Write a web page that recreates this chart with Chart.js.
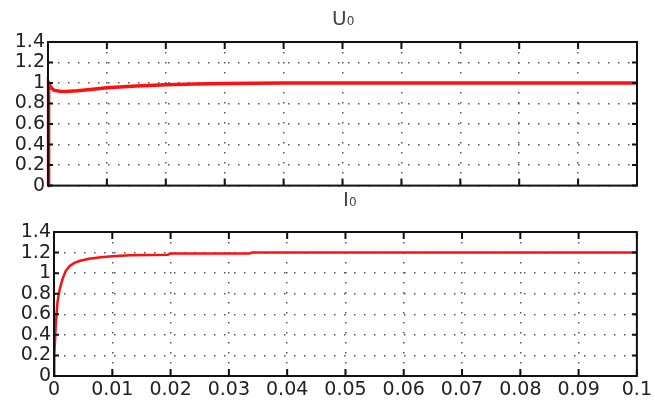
<!DOCTYPE html>
<html>
<head>
<meta charset="utf-8">
<script src="https://cdn.jsdelivr.net/npm/chart.js@4/dist/chart.umd.min.js"></script>
<style>
	html, body { margin: 0; padding: 0; background: #fff; }
	#wrap { position: relative; width: 655px; height: 403px; overflow: hidden; }
	.box { position: absolute; left: 0; width: 655px; }
	.ttl { position: absolute; font-family: 'DejaVu Sans', sans-serif; font-size: 20px; color: #444; line-height: 20px; z-index: 2; }
	.ttl sub { font-size: 12px; vertical-align: 0; }
</style>
</head>
<body>
<div id="wrap">
	<div class="box" style="top:0;height:200px"><canvas id="uChart" width="655" height="200"></canvas></div>
	<div class="box" style="top:200px;height:203px"><canvas id="iChart" width="655" height="203"></canvas></div>
	<div class="ttl" style="left:332px;top:8px">U<sub>0</sub></div>
	<div class="ttl" style="left:343px;top:189px">I<sub>0</sub></div>
</div>
<script>
// time axis
var xTicks = [0, 0.01, 0.02, 0.03, 0.04, 0.05, 0.06, 0.07, 0.08, 0.09, 0.1];
var yTicks = [0, 0.2, 0.4, 0.6, 0.8, 1, 1.2, 1.4];

// U0
var uTime = [0, 0.0001, 0.0005, 0.001, 0.002, 0.003, 0.005, 0.008, 0.01, 0.015, 0.02, 0.025, 0.03, 0.04, 0.06, 0.08, 0.1];
var uValue = [0, 1.0, 0.955, 0.93, 0.92, 0.918, 0.925, 0.942, 0.955, 0.972, 0.984, 0.99, 0.995, 1.0, 1.0, 1.0, 1.0];

// I0
var iTime = [0, 0.00005, 0.0003, 0.0006, 0.001, 0.0015, 0.002, 0.0027, 0.0035, 0.0045, 0.006, 0.008, 0.01, 0.013, 0.0195, 0.02, 0.0335, 0.034, 0.1];
var iValue = [0, 0.2, 0.5, 0.72, 0.85, 0.95, 1.02, 1.07, 1.1, 1.12, 1.14, 1.155, 1.165, 1.175, 1.18, 1.19, 1.19, 1.2, 1.2];

var toPoints = function(t, v) {
	return t.map(function(x, i) { return { x: x, y: v[i] }; });
};

// border + inward tick marks, like the matlab axes
var frameTicks = {
	id: 'frameTicks',
	afterDraw: function(chart) {
		var c = chart.ctx, a = chart.chartArea;
		var xs = chart.scales.x, ys = chart.scales.y;
		c.save();
		c.strokeStyle = '#111';
		c.lineWidth = 2;
		c.strokeRect(a.left, a.top, a.right - a.left, a.bottom - a.top);
		c.beginPath();
		xTicks.forEach(function(v) {
			var px = xs.getPixelForValue(v);
			c.moveTo(px, a.bottom); c.lineTo(px, a.bottom - 7);
			c.moveTo(px, a.top); c.lineTo(px, a.top + 7);
		});
		yTicks.forEach(function(v) {
			var py = ys.getPixelForValue(v);
			c.moveTo(a.left, py); c.lineTo(a.left + 5, py);
			c.moveTo(a.right, py); c.lineTo(a.right - 5, py);
		});
		c.stroke();
		c.restore();
	}
};

var makeChart = function(id, pts, opt) {
	return new Chart(document.getElementById(id), {
		type: 'line',
		data: {
			datasets: [{
				data: pts,
				borderColor: '#ff1010',
				borderWidth: opt.lineWidth,
				pointRadius: 0,
				tension: 0,
				fill: false
			}]
		},
		options: {
			responsive: false,
			animation: false,
			events: [],
			clip: false,
			layout: { padding: opt.padding },
			plugins: { legend: { display: false }, tooltip: { enabled: false }, title: { display: false } },
			scales: {
				x: {
					type: 'linear',
					min: 0, max: 0.1,
					afterBuildTicks: function(s) { s.ticks = xTicks.map(function(v) { return { value: v }; }); },
					afterFit: function(s) { s.height = opt.xHeight; },
					grid: { color: '#555', lineWidth: 1.5, drawTicks: false },
					border: { display: false, dash: [1.5, 8.5] },
					ticks: {
						display: opt.showX,
						padding: 3,
						maxRotation: 0,
						autoSkip: false,
						color: '#222',
						font: { family: 'DejaVu Sans', size: 19 },
						callback: function(v) { return String(+v.toFixed(3)); }
					}
				},
				y: {
					min: 0, max: 1.4,
					afterBuildTicks: function(s) { s.ticks = yTicks.map(function(v) { return { value: v }; }); },
					afterFit: function(s) { s.width = opt.yWidth; },
					grid: { color: '#555', lineWidth: 1.5, drawTicks: false },
					border: { display: false, dash: [1.5, 8.5] },
					ticks: {
						padding: 3,
						autoSkip: false,
						color: '#222',
						font: { family: 'DejaVu Sans', size: 19 },
						callback: function(v) { return String(+v.toFixed(2)); }
					}
				}
			}
		},
		plugins: [frameTicks]
	});
};

var uChart = makeChart('uChart', toPoints(uTime, uValue), {
	padding: { left: 0, right: 18, top: 42, bottom: 0 },
	xHeight: 12, yWidth: 48, showX: false, lineWidth: 3.5
});
var iChart = makeChart('iChart', toPoints(iTime, iValue), {
	padding: { left: 0, right: 12, top: 32, bottom: 0 },
	xHeight: 27, yWidth: 54, showX: true, lineWidth: 2.5
});
</script>
</body>
</html>
